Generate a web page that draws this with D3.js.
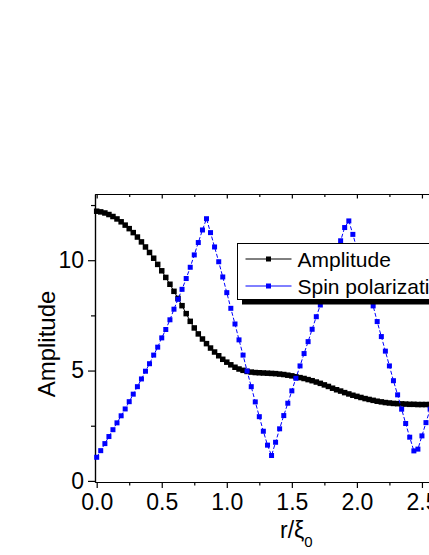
<!DOCTYPE html>
<html>
<head>
<meta charset="utf-8">
<script src="https://cdn.jsdelivr.net/npm/d3@7"></script>
<style>
  html, body { margin: 0; padding: 0; background: #fff; }
  svg { display: block; font-family: 'Liberation Sans', Arial, sans-serif; }
</style>
</head>
<body>
<svg id="chart" width="429" height="555"></svg>
<script>
// r / xi_0 sample points (shared by both series)
const rValues = [
  0, 0.031, 0.063, 0.094, 0.125, 0.156, 0.188, 0.219, 0.25, 0.281,
  0.313, 0.344, 0.375, 0.406, 0.438, 0.469, 0.5, 0.531, 0.563, 0.594,
  0.625, 0.656, 0.688, 0.719, 0.75, 0.781, 0.813, 0.844, 0.875, 0.906,
  0.938, 0.969, 1.0, 1.031, 1.063, 1.094, 1.125, 1.156, 1.188, 1.219,
  1.25, 1.281, 1.313, 1.344, 1.375, 1.406, 1.438, 1.469, 1.5, 1.531,
  1.563, 1.594, 1.625, 1.656, 1.688, 1.719, 1.75, 1.781, 1.813, 1.844,
  1.875, 1.906, 1.938, 1.969, 2.0, 2.031, 2.063, 2.094, 2.125, 2.156,
  2.188, 2.219, 2.25, 2.281, 2.313, 2.344, 2.375, 2.406, 2.438, 2.469,
  2.5, 2.531, 2.563, 2.594
];

const amplitude = [
  12.22, 12.19, 12.14, 12.07, 11.98, 11.87, 11.74, 11.59, 11.43, 11.25,
  11.05, 10.83, 10.60, 10.35, 10.09, 9.81, 9.52, 9.22, 8.91, 8.59,
  8.27, 7.94, 7.58, 7.23, 6.93, 6.66, 6.43, 6.22, 6.02, 5.84,
  5.67, 5.51, 5.38, 5.26, 5.15, 5.07, 5.01, 4.96, 4.93, 4.91,
  4.90, 4.89, 4.88, 4.87, 4.86, 4.84, 4.82, 4.79, 4.76, 4.72,
  4.68, 4.64, 4.59, 4.54, 4.48, 4.42, 4.35, 4.28, 4.20, 4.13,
  4.07, 4.00, 3.94, 3.88, 3.83, 3.78, 3.73, 3.69, 3.65, 3.61,
  3.58, 3.55, 3.53, 3.51, 3.50, 3.49, 3.48, 3.47, 3.47, 3.46,
  3.46, 3.46, 3.46, 3.46
];

const spinPolarization = [
  1.07, 1.37, 1.69, 2.01, 2.32, 2.63, 2.95, 3.26, 3.59, 3.93,
  4.27, 4.62, 4.97, 5.31, 5.70, 6.06, 6.48, 6.86, 7.30, 7.78,
  8.23, 8.68, 9.17, 9.68, 10.24, 10.80, 11.37, 11.88, 11.25, 10.60,
  9.93, 9.24, 8.53, 7.82, 7.11, 6.39, 5.70, 4.98, 4.27, 3.58,
  2.91, 2.25, 1.62, 1.15, 1.75, 2.36, 2.96, 3.52, 4.08, 4.65,
  5.21, 5.77, 6.31, 6.87, 7.44, 7.97, 8.55, 9.12, 9.70, 10.30,
  10.88, 11.48, 11.78, 11.17, 10.52, 9.87, 9.22, 8.57, 7.93, 7.22,
  6.54, 5.88, 5.21, 4.54, 3.90, 3.25, 2.60, 1.98, 1.36, 1.44,
  2.04, 2.64, 3.25, 3.85
];

const xTicks = [0, 0.5, 1.0, 1.5, 2.0, 2.5, 3.0];
const xMinorTicks = [0.25, 0.75, 1.25, 1.75, 2.25, 2.75];
const yTicks = [0, 5, 10];
const yMinorTicks = [2.5, 7.5, 12.5];

const legendLabels = ['Amplitude', 'Spin polarization'];
const seriesColors = ['#000000', '#0000ff'];

const svg = d3.select('#chart');

const plotLeft = 95;
const plotRight = 500;
const plotTop = 194;
const plotBottom = 482;

const x = d3.scaleLinear()
  .domain([-0.013, 3.1])
  .range([plotLeft, plotRight]);

const y = d3.scaleLinear()
  .domain([-0.05, 13])
  .range([plotBottom, plotTop]);

const styleAxis = (g) => {
  g.selectAll('path, line').attr('stroke', '#000').attr('stroke-width', 1.2);
  g.selectAll('text')
    .attr('fill', '#000')
    .style('font-size', '23px')
    .style('font-family', "'Liberation Sans', Arial, sans-serif");
};

// bottom axis, major + minor
svg.append('g')
  .attr('transform', `translate(0, ${plotBottom})`)
  .call(d3.axisBottom(x).tickValues(xTicks).tickFormat(d3.format('.1f'))
    .tickSize(6).tickPadding(6).tickSizeOuter(0))
  .call(styleAxis);

svg.append('g')
  .attr('transform', `translate(0, ${plotBottom})`)
  .call(d3.axisBottom(x).tickValues(xMinorTicks).tickFormat('').tickSize(3.5).tickSizeOuter(0))
  .call(styleAxis);

// top axis (ticks point inwards)
svg.append('g')
  .attr('transform', `translate(0, ${plotTop})`)
  .call(d3.axisTop(x).tickValues(xTicks).tickFormat('').tickSize(-4.5).tickSizeOuter(0))
  .call(styleAxis);

svg.append('g')
  .attr('transform', `translate(0, ${plotTop})`)
  .call(d3.axisTop(x).tickValues(xMinorTicks).tickFormat('').tickSize(-3).tickSizeOuter(0))
  .call(styleAxis);

// left axis
svg.append('g')
  .attr('transform', `translate(${plotLeft}, 0)`)
  .call(d3.axisLeft(y).tickValues(yTicks).tickSize(7).tickPadding(4).tickSizeOuter(0))
  .call(styleAxis);

svg.append('g')
  .attr('transform', `translate(${plotLeft}, 0)`)
  .call(d3.axisLeft(y).tickValues(yMinorTicks).tickFormat('').tickSize(4).tickSizeOuter(0))
  .call(styleAxis);

// right axis (mostly off screen)
svg.append('g')
  .attr('transform', `translate(${plotRight}, 0)`)
  .call(d3.axisRight(y).tickValues(yTicks).tickFormat('').tickSize(-4.5).tickSizeOuter(0))
  .call(styleAxis);

// axis titles
svg.append('text')
  .attr('transform', `translate(55, 344) rotate(-90)`)
  .attr('text-anchor', 'middle')
  .style('font-size', '24px')
  .text('Amplitude');

const xTitle = svg.append('text')
  .attr('x', 280)
  .attr('y', 538)
  .style('font-size', '23px')
  .text('r/ξ');

xTitle.append('tspan')
  .attr('dy', 9)
  .style('font-size', '15px')
  .text('0');

// series
const series = [
  { values: amplitude, color: seriesColors[0], dash: null, size: 5.5 },
  { values: spinPolarization, color: seriesColors[1], dash: '4,2', size: 5 }
];

const line = d3.line()
  .x((d) => x(d[0]))
  .y((d) => y(d[1]));

series.forEach((s) => {
  const points = rValues.map((r, i) => [r, s.values[i]]);

  svg.append('path')
    .datum(points)
    .attr('fill', 'none')
    .attr('stroke', s.color)
    .attr('stroke-width', 1)
    .attr('stroke-dasharray', s.dash)
    .attr('d', line);

  svg.append('g')
    .selectAll('rect')
    .data(points)
    .enter()
    .append('rect')
      .attr('x', (d) => x(d[0]) - s.size / 2)
      .attr('y', (d) => y(d[1]) - s.size / 2)
      .attr('width', s.size)
      .attr('height', s.size)
      .attr('fill', s.color);
});

// legend with drop shadow
const legend = svg.append('g').attr('transform', 'translate(237.5, 243.5)');

legend.append('rect')
  .attr('x', 4.5)
  .attr('y', 5)
  .attr('width', 260)
  .attr('height', 56)
  .attr('fill', '#000');

legend.append('rect')
  .attr('x', 0)
  .attr('y', 0)
  .attr('width', 260)
  .attr('height', 56)
  .attr('fill', '#fff')
  .attr('stroke', '#000')
  .attr('stroke-width', 1);

legendLabels.forEach((label, i) => {
  const ly = 15.5 + i * 27;
  legend.append('line')
    .attr('x1', 8)
    .attr('x2', 54)
    .attr('y1', ly)
    .attr('y2', ly)
    .attr('stroke', seriesColors[i])
    .attr('stroke-width', 1);

  legend.append('rect')
    .attr('x', 31 - 2.5)
    .attr('y', ly - 2.5)
    .attr('width', 5)
    .attr('height', 5)
    .attr('fill', seriesColors[i]);

  legend.append('text')
    .attr('x', 60)
    .attr('y', ly + 7.5)
    .style('font-size', '21px')
    .text(label);
});
</script>
</body>
</html>
